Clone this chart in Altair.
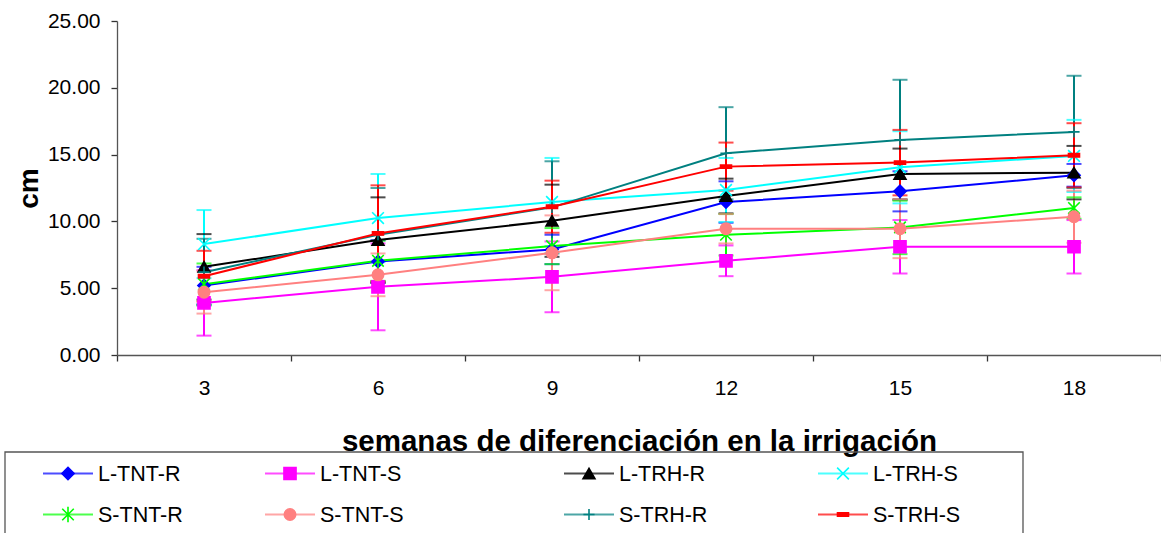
import altair as alt
import pandas as pd

weeks = [3, 6, 9, 12, 15, 18]
series = ["L-TNT-R", "L-TNT-S", "L-TRH-R", "L-TRH-S",
          "S-TNT-R", "S-TNT-S", "S-TRH-R", "S-TRH-S"]
colors = ["#0000FF", "#FF00FF", "#000000", "#00FFFF",
          "#00FF00", "#FF8080", "#008080", "#FF0000"]
shapes = ["diamond", "square", "triangle-up", "M-1,-1L1,1M-1,1L1,-1",
          "M-1,-1L1,1M-1,1L1,-1M0,-1.35L0,1.35", "circle",
          "M-1,0L1,0M0,-1L0,1", "M-1,-0.3L1,-0.3L1,0.3L-1,0.3Z"]
sizes = [150, 121, 175, 150, 160, 125, 160, 90]

# means (cm)
l_tnt_r = [5.2, 7.0, 7.9, 11.45, 12.25, 13.45]
l_tnt_s = [3.9, 5.1, 5.85, 7.05, 8.1, 8.1]
l_trh_r = [6.6, 8.6, 10.05, 11.9, 13.55, 13.65]
l_trh_s = [8.3, 10.25, 11.45, 12.35, 14.05, 14.9]
s_tnt_r = [5.3, 7.05, 8.15, 9.0, 9.55, 11.0]
s_tnt_s = [4.7, 6.0, 7.65, 9.45, 9.45, 10.35]
s_trh_r = [6.2, 9.0, 11.05, 15.1, 16.1, 16.7]
s_trh_s = [5.9, 9.1, 11.1, 14.1, 14.4, 14.95]

# error (+/-)
e_l_tnt_r = [1.4, 1.6, 1.1, 1.55, 1.5, 0.85]
e_l_tnt_s = [2.45, 3.25, 2.65, 1.15, 2.0, 2.0]
e_l_trh_r = [2.45, 3.2, 2.7, 1.3, 1.9, 2.0]
e_l_trh_s = [2.55, 3.3, 3.3, 2.4, 2.7, 2.7]
e_s_tnt_r = [1.55, 1.5, 1.35, 1.55, 2.0, 0.8]
e_s_tnt_s = [1.6, 1.6, 2.8, 1.1, 2.2, 1.95]
e_s_trh_r = [2.5, 3.5, 3.45, 3.45, 4.5, 4.2]
e_s_trh_s = [1.9, 3.6, 1.95, 1.8, 2.45, 2.4]

means = [l_tnt_r, l_tnt_s, l_trh_r, l_trh_s, s_tnt_r, s_tnt_s, s_trh_r, s_trh_s]
errs = [e_l_tnt_r, e_l_tnt_s, e_l_trh_r, e_l_trh_s,
        e_s_tnt_r, e_s_tnt_s, e_s_trh_r, e_s_trh_s]

rows = []
for si, name in enumerate(series):
    for wi, w in enumerate(weeks):
        m = means[si][wi]
        e = errs[si][wi]
        rows.append({"series": name, "order": si, "week": w, "value": m,
                     "lo": m - e, "hi": m + e})
df = pd.DataFrame(rows)

legend_df = pd.DataFrame({
    "series": series,
    "col": [i % 4 for i in range(len(series))],
    "row": [i // 4 for i in range(len(series))],
})

FONT = "Liberation Sans"

color_scale = alt.Scale(domain=series, range=colors)
shape_scale = alt.Scale(domain=series, range=shapes)
size_scale = alt.Scale(domain=series, range=sizes)

x_enc = alt.X("week:O", bandPosition=0.5,
              scale=alt.Scale(type="band", paddingInner=0, paddingOuter=0),
              title="semanas de diferenciación en la irrigación",
              axis=alt.Axis(labelAngle=0, tickBand="extent", tickSize=6,
                            labelPadding=33, labelBaseline="alphabetic",
                            titleY=95, titleBaseline="alphabetic",
                            titleFontSize=29.5, titleFontWeight="bold"))
y_axis = alt.Axis(values=[0, 5, 10, 15, 20, 25], format=".2f", tickSize=6,
                  labelPadding=11, titleX=-80, titleBaseline="alphabetic",
                  titleFontSize=28, titleFontWeight="bold")
y_scale = alt.Scale(domain=[0, 25], nice=False, zero=True)

base = alt.Chart(df)

rules = base.mark_rule(strokeWidth=2).encode(
    x=x_enc,
    y=alt.Y("lo:Q", scale=y_scale, axis=y_axis, title="cm"),
    y2="hi:Q",
    color=alt.Color("series:N", scale=color_scale, legend=None),
    detail="series:N",
)
caps_lo = base.mark_tick(size=15, thickness=2, orient="horizontal").encode(
    x=x_enc,
    y=alt.Y("lo:Q", scale=y_scale, axis=y_axis, title="cm"),
    color=alt.Color("series:N", scale=color_scale, legend=None),
)
caps_hi = base.mark_tick(size=15, thickness=2, orient="horizontal").encode(
    x=x_enc,
    y=alt.Y("hi:Q", scale=y_scale, axis=y_axis, title="cm"),
    color=alt.Color("series:N", scale=color_scale, legend=None),
)
lines = base.mark_line(strokeWidth=2).encode(
    x=x_enc,
    y=alt.Y("value:Q", scale=y_scale, axis=y_axis, title="cm"),
    color=alt.Color("series:N", scale=color_scale, legend=None),
    order="week:O",
)
points = base.mark_point(filled=True, strokeWidth=1.6, opacity=1).encode(
    x=x_enc,
    y=alt.Y("value:Q", scale=y_scale, axis=y_axis, title="cm"),
    color=alt.Color("series:N", scale=color_scale, legend=None),
    stroke=alt.Stroke("series:N", scale=color_scale, legend=None),
    shape=alt.Shape("series:N", scale=shape_scale, legend=None),
    size=alt.Size("series:N", scale=size_scale, legend=None),
)

main = alt.layer(rules, caps_lo, caps_hi, lines, points)

# custom legend (entries placed by col/row scales)
leg_x = alt.X("col:Q", axis=None,
              scale=alt.Scale(domain=[0, 1, 2, 3], range=[-49, 173, 472, 726],
                              nice=False, zero=False))
leg_y = alt.Y("row:Q", axis=None,
              scale=alt.Scale(domain=[0, 1], range=[452.5, 493.5],
                              nice=False, zero=False))
lbase = alt.Chart(legend_df)

box = alt.Chart(pd.DataFrame({"k": [0]})).mark_rect(
    fill="white", fillOpacity=0, stroke="#555", strokeWidth=1.3
).encode(x=alt.value(-112), x2=alt.value(906), y=alt.value(431), y2=alt.value(560))

leg_lines = lbase.mark_tick(size=50, thickness=2, orient="horizontal").encode(
    x=leg_x, y=leg_y,
    color=alt.Color("series:N", scale=color_scale, legend=None),
)
leg_pts = lbase.mark_point(filled=True, strokeWidth=1.6, opacity=1).encode(
    x=leg_x, y=leg_y,
    color=alt.Color("series:N", scale=color_scale, legend=None),
    stroke=alt.Stroke("series:N", scale=color_scale, legend=None),
    shape=alt.Shape("series:N", scale=shape_scale, legend=None),
    size=alt.Size("series:N", scale=size_scale, legend=None),
)
leg_txt = lbase.mark_text(align="left", baseline="middle", dx=30, dy=1,
                          fontSize=21.5, font=FONT, color="black").encode(
    x=leg_x, y=leg_y, text="series:N",
)

chart = alt.layer(main, box, leg_lines, leg_pts, leg_txt).resolve_scale(
    x="independent", y="independent"
).properties(
    width=1044, height=334,
    autosize=alt.AutoSizeParams(type="none"),
    padding={"left": 117, "top": 21, "right": 0, "bottom": 178},
    background="white",
).configure_axis(
    labelFont=FONT, titleFont=FONT, labelFontSize=21, labelColor="black",
    titleColor="black", domainColor="#555", tickColor="#333", grid=False,
    domainWidth=1.3, tickWidth=1.3,
).configure_view(stroke=None)

chart.save("out.html", embed_options={"renderer": "svg", "actions": False})
